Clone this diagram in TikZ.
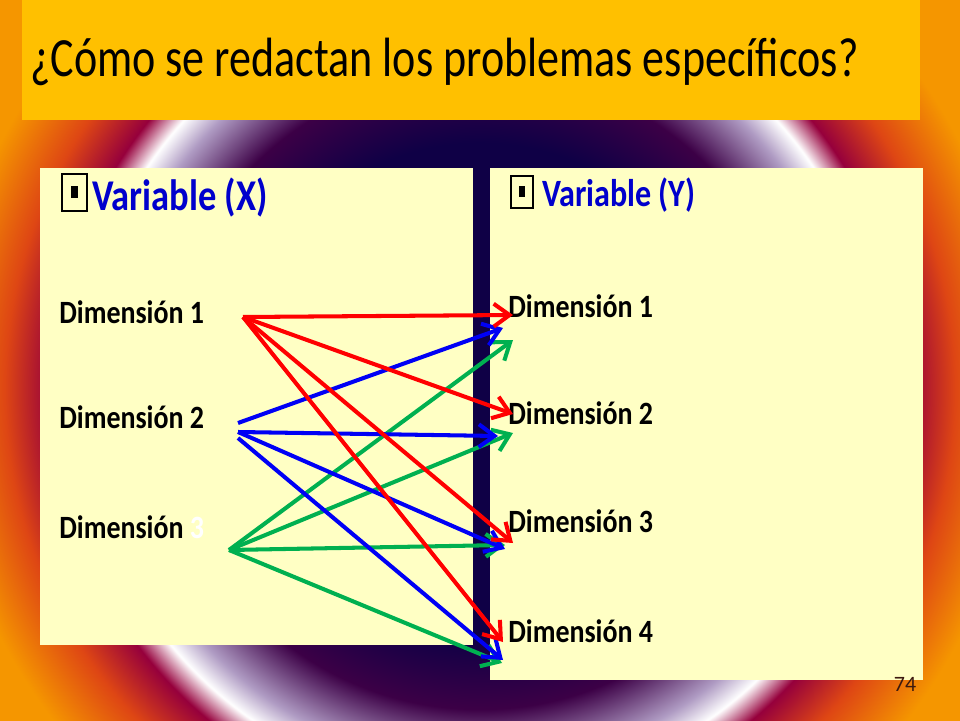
\documentclass[tikz,border=0pt]{standalone}
\usepackage{fontspec}
\setmainfont{Carlito}
\usetikzlibrary{arrows.meta,positioning}

\definecolor{titlebar}{RGB}{255,192,0}
\definecolor{panel}{RGB}{255,255,196}
\definecolor{hdrblue}{RGB}{0,0,204}
\definecolor{ared}{RGB}{255,0,0}
\definecolor{ablue}{RGB}{0,0,245}
\definecolor{agreen}{RGB}{0,176,80}
\definecolor{bgnavy}{RGB}{15,0,70}
\definecolor{bgplum}{RGB}{60,0,70}
\definecolor{bglav}{RGB}{175,155,195}
\definecolor{bgmaroon}{RGB}{150,0,60}
\definecolor{bgred}{RGB}{222,70,20}
\definecolor{bgorange}{RGB}{245,150,0}

\pgfdeclareradialshading{slidebg}{\pgfpoint{0bp}{0bp}}{%
  color(0bp)=(bgnavy); color(10.3bp)=(bgnavy); color(13.3bp)=(bgplum);
  color(15.6bp)=(bglav); color(16.7bp)=(white); color(17.8bp)=(bgmaroon);
  color(19.8bp)=(bgred); color(22.5bp)=(bgorange); color(50bp)=(bgorange)}

\tikzset{
  txt/.style={inner sep=0pt, anchor=base west},
  dimlabel/.style={txt, xscale=0.86, font=\bfseries\fontsize{18.5}{20}\selectfont},
  varlabel/.style={txt, xscale=0.83, text=hdrblue, font=\bfseries\fontsize{25}{28}\selectfont},
  chkbox/.style={draw=black, line width=1.4pt, fill=panel, inner sep=0pt},
  rarrow/.style={draw=ared, line width=2.3pt, -{Straight Barb[length=9pt,width=13pt]}},
  barrow/.style={draw=ablue, line width=2.3pt, -{Straight Barb[length=9pt,width=13pt]}},
  garrow/.style={draw=agreen, line width=2.3pt, -{Straight Barb[length=9pt,width=13pt]}},
}

\begin{document}
\begin{tikzpicture}[x=0.02cm, y=-0.02cm]
\useasboundingbox (0,0) rectangle (960,720);

% background
\begin{scope}
\clip (0,0) rectangle (960,720);
\fill[bgorange] (0,0) rectangle (960,720);
\shade[shading=slidebg] (480,390) circle (600);
\end{scope}

% title
\fill[titlebar] (22,0) rectangle (920,120);
\node[txt, xscale=0.796, font=\fontsize{31.5}{34}\selectfont] (title) at (30,76) {¿Cómo se redactan los problemas específicos?};

% panels
\fill[panel] (40,168) rectangle (473,645);
\fill[panel] (490,168) rectangle (923,680);

% headers
\node[chkbox, minimum width=14pt, minimum height=21pt] (boxx) at (74.5,192.5) {};
\fill (71,186) rectangle (78,198);
\node[varlabel] (varx) at (92,210) {Variable (X)};

\node[chkbox, minimum width=12.5pt, minimum height=18pt] (boxy) at (522,192) {};
\fill (519,186) rectangle (525,197);
\node[varlabel, font=\bfseries\fontsize{22}{24}\selectfont] (vary) at (542,206) {Variable (Y)};

% dimensions of X
\node[dimlabel] (x1) at (59,323) {Dimensión 1};
\node[dimlabel] (x2) at (59,428) {Dimensión 2};
\node[dimlabel] (x3) at (59,538) {Dimensión \textcolor{white}{3}};

% dimensions of Y
\node[dimlabel] (y1) at (508,317) {Dimensión 1};
\node[dimlabel] (y2) at (508,424) {Dimensión 2};
\node[dimlabel] (y3) at (508,532) {Dimensión 3};
\node[dimlabel] (y4) at (508,642) {Dimensión 4};

% arrow ends
\coordinate (xd1) at (243,317);
\coordinate (xd2a) at (238,423);
\coordinate (xd2b) at (238,432);
\coordinate (xd2c) at (238,438);
\coordinate (xd3) at (229,550);

\coordinate (y1r) at (513,315);
\coordinate (y1b) at (503,328);
\coordinate (y1g) at (513,340);
\coordinate (y2r) at (513,414);
\coordinate (y2b) at (498,436);
\coordinate (y2g) at (513,433);
\coordinate (y3r) at (513,543);
\coordinate (y3b) at (505,549);
\coordinate (y3g) at (505,545);
\coordinate (y4r) at (503,642);
\coordinate (y4b) at (503,660);
\coordinate (y4g) at (502,663);

\draw[garrow] (xd3) -- (y1g);
\draw[garrow] (xd3) -- (y2g);
\draw[garrow] (xd3) -- (y3g);
\draw[garrow] (xd3) -- (y4g);

\draw[barrow] (xd2a) -- (y1b);
\draw[barrow] (xd2b) -- (y2b);
\draw[barrow] (xd2b) -- (y3b);
\draw[barrow] (xd2c) -- (y4b);

\draw[rarrow] (xd1) -- (y1r);
\draw[rarrow] (xd1) -- (y2r);
\draw[rarrow] (xd1) -- (y3r);
\draw[rarrow] (xd1) -- (y4r);

% page number
\node[font=\fontsize{12.5}{14}\selectfont, text={rgb,255:red,60;green,25;blue,15}] (pnum) at (905,684) {74};
\end{tikzpicture}
\end{document}
